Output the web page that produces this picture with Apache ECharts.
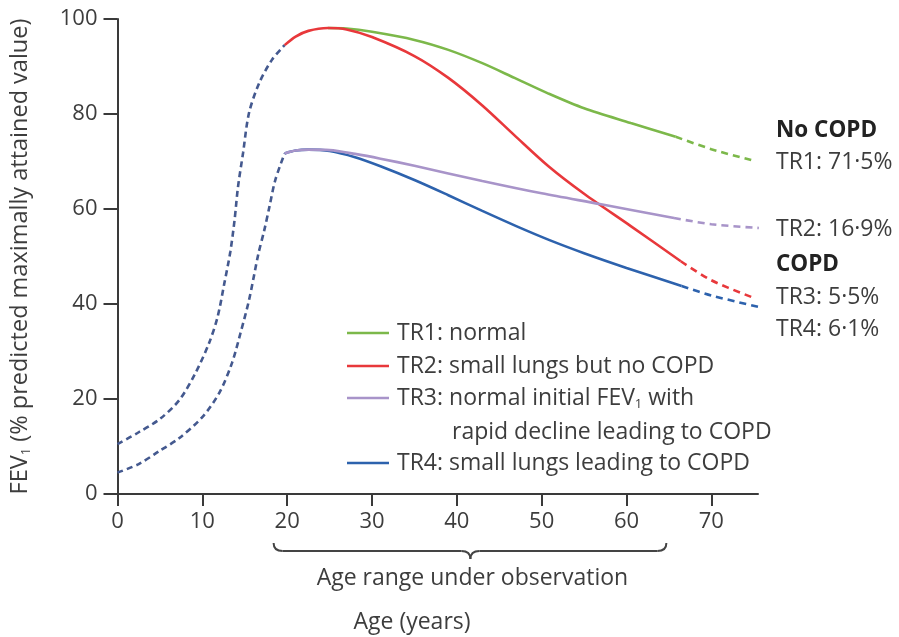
<!DOCTYPE html>
<html><head><meta charset="utf-8">
<script src="https://cdn.jsdelivr.net/npm/echarts@6/dist/echarts.min.js"></script>
<style>html,body{margin:0;padding:0;background:#fff}#c{width:899px;height:637px}</style>
</head><body><div id="c"></div>
<script>
// ---- data (age in years, FEV1 % predicted maximally attained value) ----
const xTicks = [0, 10, 20, 30, 40, 50, 60, 70];
const yTicks = [0, 20, 40, 60, 80, 100];

const growthHighAge = [0, 2.5, 5, 7.3, 9.2, 10.8, 11.8, 12.6, 13.3, 13.8, 14.2, 14.8, 15.5, 16.7, 18.2, 19.7];
const growthHighVal = [10.5, 13, 15.8, 19.8, 25.5, 31.8, 37.3, 44.4, 51, 57.7, 64.6, 71.8, 80.2, 86.5, 91.4, 94.5];
const growthLowAge = [0, 2.5, 4.9, 7.3, 10, 12, 13.5, 14.5, 15.5, 16.6, 17.3, 17.9, 18.6, 19.7];
const growthLowVal = [4.5, 6.3, 9, 11.8, 16.2, 21.3, 27.6, 33.9, 40.8, 50.5, 55.5, 60.4, 66.1, 71.7];

const tr1Age = [24.8, 27, 30, 35, 39, 43, 46.8, 50.8, 55, 60.5, 65.8];
const tr1Val = [98.1, 98, 97.3, 95.6, 93.5, 90.7, 87.6, 84.3, 81.2, 78.1, 75.2];
const tr1TailAge = [65.8, 70, 74.7];
const tr1TailVal = [75.2, 72.6, 70.3];

const tr2Age = [19.7, 21, 22.5, 24.8, 27, 30, 35, 39, 43, 46.8, 50.8, 55, 60.5, 66.4];
const tr2Val = [94.5, 96.3, 97.5, 98.1, 97.8, 96.2, 92.2, 87.6, 81.8, 75.5, 69, 63.2, 56.4, 49];
const tr2TailAge = [66.4, 70, 74.7];
const tr2TailVal = [49, 45, 41.5];

const tr3Age = [19.7, 21, 22.5, 25, 28, 31, 35, 43, 50, 57, 65.6];
const tr3Val = [71.7, 72.3, 72.5, 72.4, 71.6, 70.6, 69.1, 65.9, 63.3, 61, 58.1];
const tr3TailAge = [65.6, 70, 75.6];
const tr3TailVal = [58.1, 56.8, 56];

const tr4Age = [19.7, 21, 22.5, 25, 28, 31, 35, 39, 43, 47, 51, 55, 60, 66.5];
const tr4Val = [71.7, 72.3, 72.5, 72.2, 70.9, 69, 66.1, 62.9, 59.6, 56.4, 53.4, 50.7, 47.6, 43.8];
const tr4TailAge = [66.5, 70, 75.5];
const tr4TailVal = [43.8, 41.8, 39.4];

const legendNames = ['TR1: normal', 'TR2: small lungs but no COPD', 'TR3: normal initial FEV', 'TR4: small lungs leading to COPD'];
const outcomeLabels = ['No COPD', 'TR1: 71·5%', 'TR2: 16·9%', 'COPD', 'TR3: 5·5%', 'TR4: 6·1%'];

// ---- styles ----
const FONT = 'Open Sans';
const TXT = '#3d3d3d';
const C_GREEN = '#7cb84a', C_RED = '#e8383b', C_PURPLE = '#a894c9', C_BLUE = '#2d62ad', C_GROW = '#44598f';

function pairs(a, v) { return a.map((x, i) => [x, v[i]]); }
function solid(name, a, v, color, z) {
  return { name, type: 'line', data: pairs(a, v), smooth: 0.3, showSymbol: false, z,
    lineStyle: { color, width: 2.6 }, silent: true };
}
function dashed(name, a, v, color, dash, z) {
  return { name, type: 'line', data: pairs(a, v), smooth: 0.3, showSymbol: false, z,
    lineStyle: { color, width: 2.6, type: dash }, silent: true };
}

const chart = echarts.init(document.getElementById('c'), null, { renderer: 'canvas' });
const option = {
  animation: false,
  backgroundColor: '#fff',
  textStyle: { fontFamily: FONT },
  grid: { left: 116, right: 141, top: 19, bottom: 143, containLabel: false },
  xAxis: {
    type: 'value', min: 0, max: 75.5, interval: 10,
    axisLine: { show: true, lineStyle: { color: '#3a3a3a', width: 2 } },
    axisTick: { show: true, length: 12, lineStyle: { color: '#3a3a3a', width: 2 } },
    axisLabel: { show: true, fontSize: 22, color: TXT, fontFamily: FONT, margin: 17, showMaxLabel: false,
      formatter: v => xTicks.includes(v) ? String(v) : '' },
    splitLine: { show: false }
  },
  yAxis: {
    type: 'value', min: 0, max: 100, interval: 20,
    axisLine: { show: true, lineStyle: { color: '#3a3a3a', width: 2 } },
    axisTick: { show: true, length: 14, lineStyle: { color: '#3a3a3a', width: 2 } },
    axisLabel: { fontSize: 22, color: TXT, fontFamily: FONT, margin: 20,
      formatter: v => yTicks.includes(v) ? String(v) : '' },
    splitLine: { show: false },
    name: '{a|FEV}{s|1}{a| (% predicted maximally attained value)}',
    nameLocation: 'middle', nameGap: 85, nameRotate: 90,
    nameTextStyle: { rich: {
      a: { fontSize: 23.5, color: TXT, fontFamily: FONT },
      s: { fontSize: 13, color: TXT, fontFamily: FONT, padding: [12, 0, 0, 0] }
    } }
  },
  series: [
    dashed('growthHigh', growthHighAge, growthHighVal, C_GROW, [6, 4], 2),
    dashed('growthLow', growthLowAge, growthLowVal, C_GROW, [6, 4], 2),
    solid(legendNames[0], tr1Age, tr1Val, C_GREEN, 3),
    dashed('tr1tail', tr1TailAge, tr1TailVal, C_GREEN, [7, 5], 3),
    solid(legendNames[1], tr2Age, tr2Val, C_RED, 4),
    dashed('tr2tail', tr2TailAge, tr2TailVal, C_RED, [7, 5], 4),
    solid(legendNames[3], tr4Age, tr4Val, C_BLUE, 3),
    dashed('tr4tail', tr4TailAge, tr4TailVal, C_BLUE, [7, 5], 3),
    solid(legendNames[2], tr3Age, tr3Val, C_PURPLE, 4),
    dashed('tr3tail', tr3TailAge, tr3TailVal, C_PURPLE, [7, 5], 4)
  ]
};
chart.setOption(option);

// ---- annotations (legend, outcome labels, brace) ----
const px = a => chart.convertToPixel({ gridIndex: 0 }, [a, 0])[0];
const g = [];
const legendColors = [C_GREEN, C_RED, C_PURPLE, C_BLUE];
const legendY = [333, 366, 398, 463];
legendColors.forEach((c, i) => {
  g.push({ type: 'line', shape: { x1: 347, y1: legendY[i], x2: 389, y2: legendY[i] }, style: { stroke: c, lineWidth: 2.6 } });
});
const FS = 23;
const txt = (x, y, text, opts = {}) => ({ type: 'text', x, y, style: Object.assign({ text, fill: TXT, font: `${FS}px "${FONT}"`, verticalAlign: 'middle', align: 'left' }, opts) });
g.push(txt(397, legendY[0], legendNames[0]));
g.push(txt(397, legendY[1], legendNames[1]));
g.push({ type: 'text', x: 397, y: legendY[2], style: {
  text: '{a|TR3: normal initial FEV}{s|1}{a| with}', rich: {
    a: { fontSize: FS, fill: TXT, fontFamily: FONT },
    s: { fontSize: 13, fill: TXT, fontFamily: FONT, padding: [12, 0, 0, 0] } },
  verticalAlign: 'middle' } });
g.push(txt(452, 432, 'rapid decline leading to COPD'));
g.push(txt(397, legendY[3], legendNames[3]));

const outY = [131, 162, 229, 265, 297, 329];
outcomeLabels.forEach((t, i) => {
  const bold = (t === 'No COPD' || t === 'COPD');
  g.push(txt(776, outY[i], t, { font: `${bold ? 'bold ' : ''}${bold ? 22.5 : FS}px "${FONT}"`, fill: bold ? '#222' : TXT }));
});

const bx1 = px(18.4), bx2 = px(64.7), bt = px(41.6);
const bs = { stroke: '#444', lineWidth: 2, fill: null };
g.push({ type: 'bezierCurve', shape: { x1: bx1, y1: 543, cpx1: bx1, cpy1: 551, x2: bx1 + 9, y2: 551 }, style: bs });
g.push({ type: 'line', shape: { x1: bx1 + 9, y1: 551, x2: bt - 9, y2: 551 }, style: bs });
g.push({ type: 'bezierCurve', shape: { x1: bt - 9, y1: 551, cpx1: bt, cpy1: 551, x2: bt, y2: 559 }, style: bs });
g.push({ type: 'bezierCurve', shape: { x1: bt, y1: 559, cpx1: bt, cpy1: 551, x2: bt + 9, y2: 551 }, style: bs });
g.push({ type: 'line', shape: { x1: bt + 9, y1: 551, x2: bx2 - 9, y2: 551 }, style: bs });
g.push({ type: 'bezierCurve', shape: { x1: bx2 - 9, y1: 551, cpx1: bx2, cpy1: 551, x2: bx2, y2: 543 }, style: bs });
g.push(txt(bt + 2, 578, 'Age range under observation', { align: 'center' }));
g.push(txt(412, 622, 'Age (years)', { align: 'center' }));
chart.setOption({ graphic: g });
</script>
</body></html>
